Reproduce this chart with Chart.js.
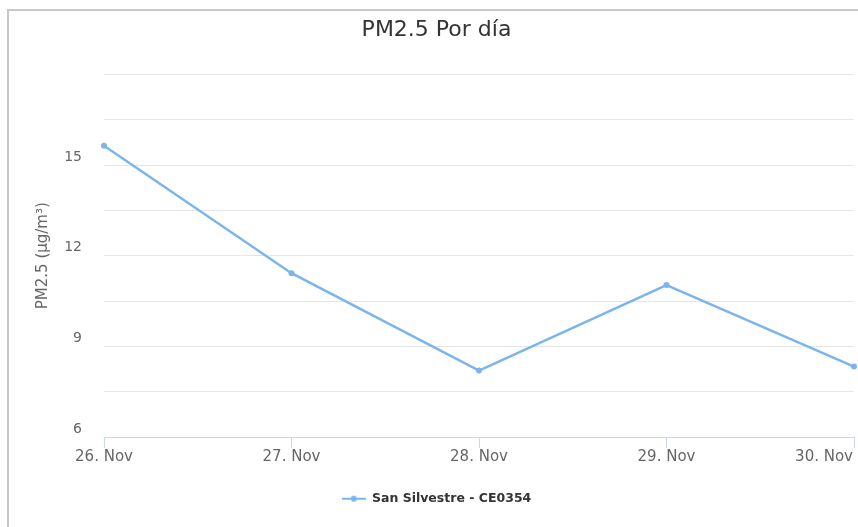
<!DOCTYPE html>
<html>
<head>
<meta charset="utf-8">
<script src="https://cdn.jsdelivr.net/npm/chart.js@4.4.0/dist/chart.umd.min.js"></script>
<style>
  html, body { margin: 0; padding: 0; background: #fff; overflow: hidden; }
  .frame { position: absolute; left: 7px; top: 9px; width: 900px; height: 600px; border: 2px solid #c8c8c8; }
  .box { position: absolute; left: 0; top: 0; width: 858px; height: 527px; }
</style>
</head>
<body>
<div class="frame"></div>
<div class="box"><canvas id="pmChart"></canvas></div>
<script>
// datos del gráfico
const days = ['26. Nov', '27. Nov', '28. Nov', '29. Nov', '30. Nov'];
const pm25 = [15.64, 11.42, 8.20, 11.03, 8.33];
const yLabels = [6, 9, 12, 15];
const seriesName = 'San Silvestre - CE0354';

const lineColor = '#7cb5ec';

// símbolo de la leyenda: línea con punto
let legendIcon = document.createElement('canvas');
legendIcon.width = 24;
legendIcon.height = 8;
let ic = legendIcon.getContext('2d');
ic.strokeStyle = lineColor;
ic.lineWidth = 2;
ic.beginPath();
ic.moveTo(0, 4);
ic.lineTo(24, 4);
ic.stroke();
ic.fillStyle = lineColor;
ic.beginPath();
ic.arc(12, 4, 3, 0, Math.PI * 2);
ic.fill();

// etiquetas del eje x (la última se mete dentro del lienzo)
const xLabelsPlugin = {
    id: 'xLabels',
    afterDraw(chart){
        let sc = chart.scales.x;
        let ctx = chart.ctx;
        ctx.save();
        ctx.font = '15px "DejaVu Sans"';
        ctx.fillStyle = '#666';
        ctx.textAlign = 'center';
        ctx.textBaseline = 'middle';
        for(let i = 0; i < days.length; i++){
            let x = sc.getPixelForTick(i);
            let w = ctx.measureText(days[i]).width;
            if(x + w / 2 > chart.width - 5){
                x = chart.width - 5 - w / 2;
            }
            ctx.fillText(days[i], x, sc.top + 20);
        }
        ctx.restore();
    }
};

let ctxPm = document.getElementById('pmChart');

new Chart(ctxPm, {
    type: 'line',
    data: {
        labels: days,
        datasets: [{
            label: seriesName,
            data: pm25,
            borderColor: lineColor,
            backgroundColor: lineColor,
            borderWidth: 2.5,
            pointRadius: 3,
            pointBackgroundColor: lineColor,
            pointBorderWidth: 0,
            pointStyle: 'circle',
            tension: 0
        }]
    },
    options: {
        responsive: true,
        maintainAspectRatio: false,
        animation: false,
        layout: {
            padding: {left: 18, right: 3, top: 0, bottom: 12}
        },
        plugins: {
            title: {
                display: true,
                text: 'PM2.5 Por día',
                color: '#333',
                font: {family: 'DejaVu Sans', size: 22, weight: 'normal'},
                padding: {top: 17, bottom: 31}
            },
            legend: {
                position: 'bottom',
                labels: {
                    usePointStyle: true,
                    pointStyle: legendIcon,
                    pointStyleWidth: 24,
                    color: '#333',
                    font: {family: 'DejaVu Sans', size: 12.5, weight: 'bold'},
                    padding: 10
                }
            },
            tooltip: {enabled: false}
        },
        scales: {
            x: {
                grid: {
                    drawOnChartArea: false,
                    drawTicks: true,
                    tickLength: 11,
                    color: '#ccd6eb'
                },
                border: {color: '#ccd6eb', width: 1},
                ticks: {display: false},
                afterFit(scale){
                    scale.height = 45.5;
                    scale.paddingLeft = 0;
                    scale.paddingRight = 0;
                }
            },
            y: {
                min: 6,
                max: 18,
                grid: {
                    drawTicks: false,
                    color: (c) => c.tick && c.tick.value === 6 ? 'rgba(0,0,0,0)' : '#e6e6e6'
                },
                border: {display: false},
                ticks: {
                    stepSize: 1.5,
                    padding: 22,
                    labelOffset: -8,
                    color: '#666',
                    font: {family: 'DejaVu Sans', size: 14},
                    callback: (v) => yLabels.includes(v) ? String(v) : ''
                },
                title: {
                    display: true,
                    text: 'PM2.5 (µg/m³)',
                    color: '#666',
                    font: {family: 'DejaVu Sans', size: 15},
                    padding: {top: 16, bottom: 0}
                },
                afterFit(scale){
                    scale.width = 86;
                }
            }
        }
    },
    plugins: [xLabelsPlugin]
});
</script>
</body>
</html>
